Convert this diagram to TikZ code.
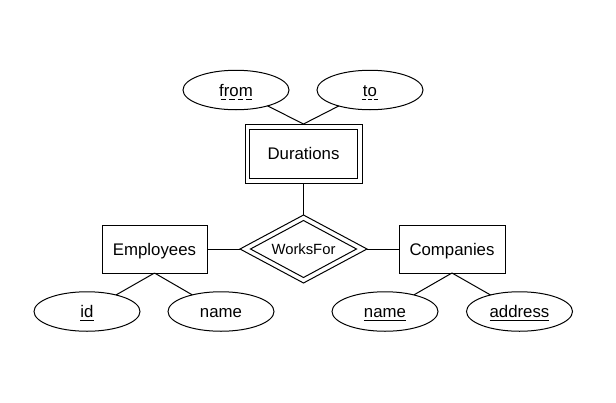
\documentclass[tikz,border=0pt]{standalone}
\usepackage{fontspec}
\setmainfont{Liberation Sans}
\usetikzlibrary{shapes.geometric}
\newsavebox\ulbox
\newcommand\solidul[1]{\sbox\ulbox{#1}\rlap{\vrule width\wd\ulbox height -2.6pt depth 3.5pt}\usebox\ulbox}
\newcommand\dashul[4]{\sbox\ulbox{#1}\rlap{\makebox[\wd\ulbox]{\hbox to #2{\xleaders\hbox to #3{\hss\vrule width #4 height -2.6pt depth 3.5pt\hss}\hfill}}}\usebox\ulbox}
\begin{document}
\begin{tikzpicture}[x=1pt,y=-1pt,
  every node/.style={line width=1pt, outer sep=0pt, inner sep=0pt,
    font=\fontsize{16.8}{20}\selectfont, text height=12pt, text depth=0pt},
  attr/.style={draw, ellipse, minimum width=106pt, minimum height=39.5pt},
  ent/.style={draw, rectangle, minimum width=105pt, minimum height=48pt},
  rel/.style={draw, diamond, aspect=1.86},
  conn/.style={line width=1pt}]
\useasboundingbox (0,0) rectangle (616,402);
\node[draw, minimum width=117pt, minimum height=59pt] (dur) at (303.5,153.5) {};
\node[draw, minimum width=108pt, minimum height=49pt] (durin) at (303.5,153.5) {Durations};
\node[attr] (from) at (236,90) {\dashul{from}{34pt}{8.5pt}{5.5pt}};
\node[attr] (to) at (370,90) {\dashul{to}{17.5pt}{5.8pt}{4pt}};
\node[rel, minimum width=127pt, minimum height=68pt] (wf) at (303.5,249) {};
\node[rel, minimum width=106pt, minimum height=57pt,
  font=\fontsize{14.8}{18}\selectfont, text height=10.6pt] (wfin) at (303.5,249) {WorksFor};
\node[ent] (emp) at (154.5,249) {Employees};
\node[ent, minimum width=106pt] (comp) at (452,249) {Companies};
\node[attr] (id) at (87,311.5) {\solidul{id}};
\node[attr] (ename) at (221,311.5) {name};
\node[attr] (cname) at (385,311.5) {\solidul{name}};
\node[attr] (addr) at (519.5,311.5) {\solidul{address}};
\draw[conn] (from) -- (dur.north);
\draw[conn] (to) -- (dur.north);
\draw[conn] (dur.south) -- (wf.north);
\draw[conn] (emp.east) -- (wf.west);
\draw[conn] (wf.east) -- (comp.west);
\draw[conn] (emp.south) -- (id);
\draw[conn] (emp.south) -- (ename);
\draw[conn] (comp.south) -- (cname);
\draw[conn] (comp.south) -- (addr);
\end{tikzpicture}
\end{document}
